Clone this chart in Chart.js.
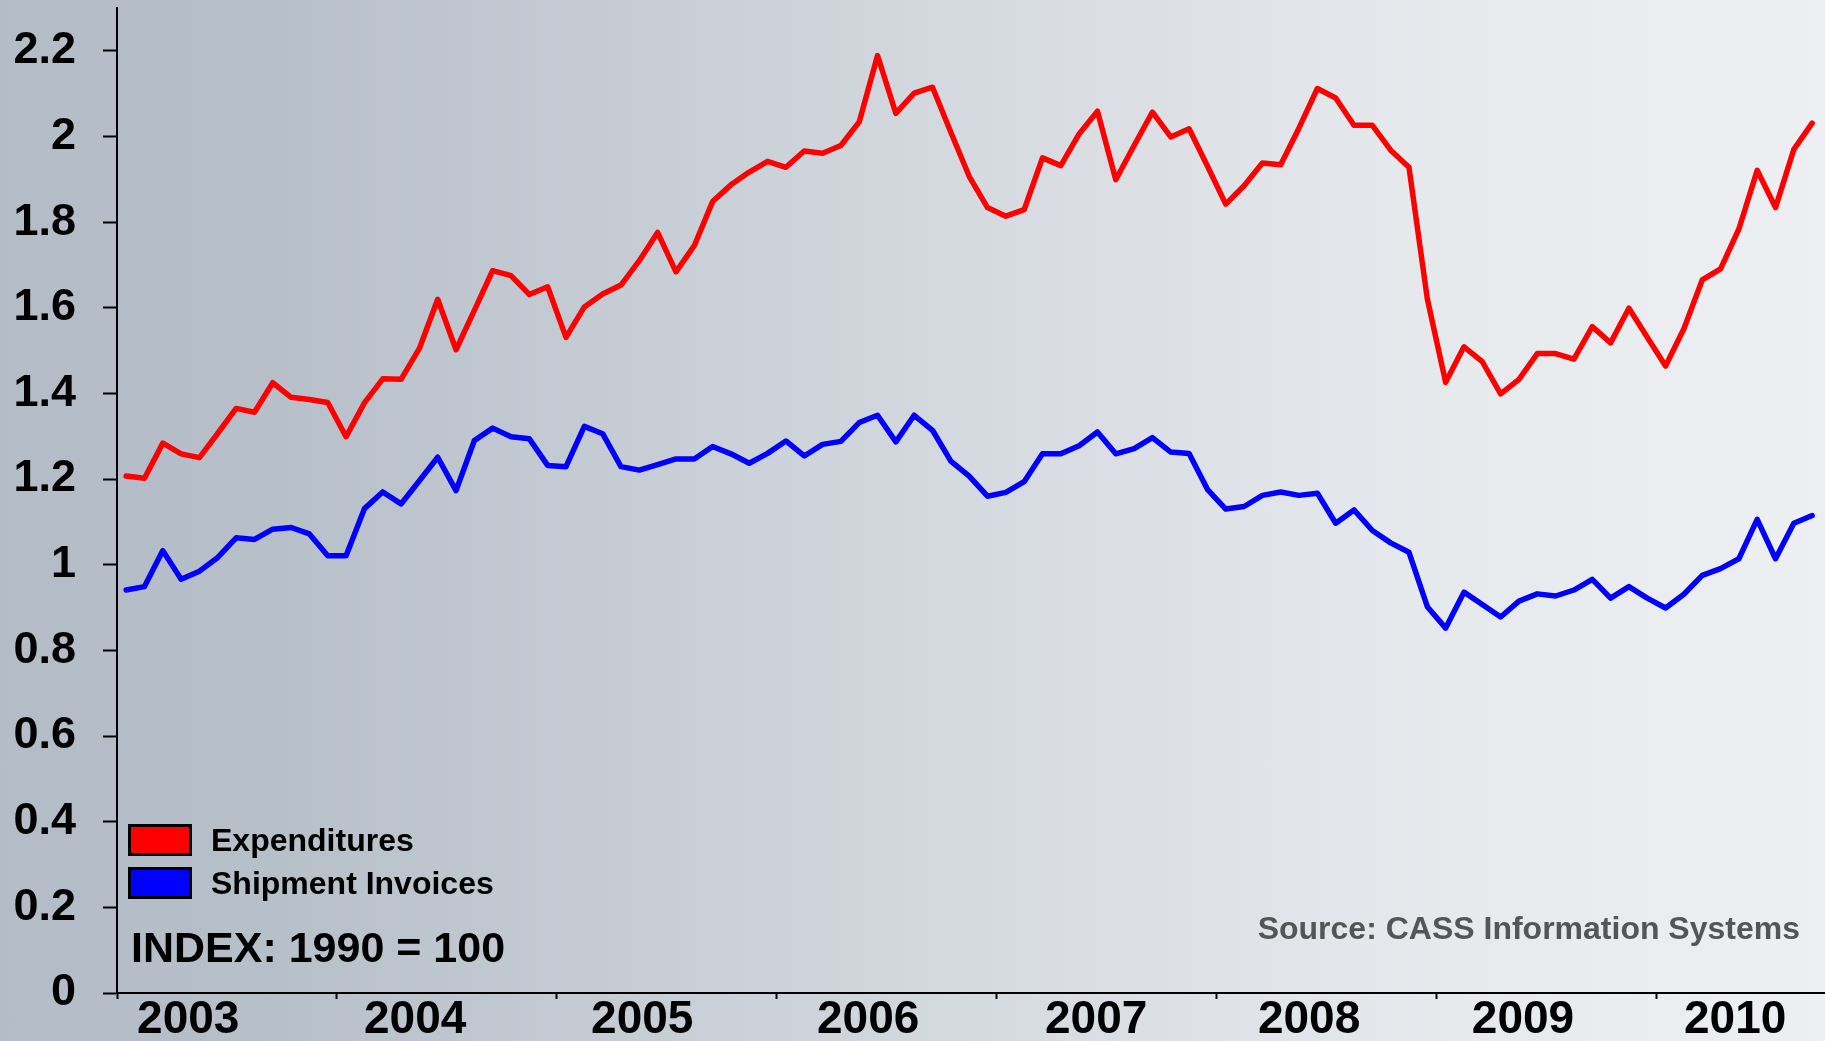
<!DOCTYPE html>
<html>
<head>
<meta charset="utf-8">
<script src="https://cdn.jsdelivr.net/npm/chart.js@4.4.1/dist/chart.umd.min.js"></script>
<style>
  html, body { margin: 0; padding: 0; }
  body { width: 1825px; height: 1041px; overflow: hidden; font-family: "Liberation Sans", Arial, Helvetica, sans-serif; }
  #wrap { position: relative; width: 1825px; height: 1041px;
    background: linear-gradient(to right, #b3bcc7 0%, #b7bfc9 15%, #c6cdd5 35%, #d9dde3 58%, #e7eaed 80%, #edeff2 100%); }
  #c { position: absolute; left: 0; top: 0; }
  .note { position: absolute; font-weight: bold; white-space: nowrap; line-height: 1; }
  #legend { position: absolute; left: 128px; top: 824px; }
  .row { display: flex; align-items: center; height: 32px; margin-bottom: 11px; }
  .box { width: 64px; height: 32px; box-sizing: border-box; border: 3px solid #000; }
  .lbl { margin-left: 19px; font-size: 32px; font-weight: bold; color: #000; line-height: 1; white-space: nowrap; }
  #index { left: 131px; top: 926px; font-size: 43px; color: #000; }
  #source { right: 25px; top: 912px; font-size: 32px; color: #555; }
</style>
</head>
<body>
<div id="wrap">
  <canvas id="c" width="1825" height="1041"></canvas>
  <div id="legend"></div>
  <div class="note" id="index">INDEX: 1990 = 100</div>
  <div class="note" id="source">Source: CASS Information Systems</div>
</div>
<script>
// Monthly series, Jan 2003 .. Sep 2010 (index, 1990 = 100, shown as ratio)
const expenditures = [
  1.207, 1.202, 1.284, 1.259, 1.250, 1.307, 1.365, 1.356, 1.425, 1.391, 1.386, 1.379,
  1.299, 1.378, 1.434, 1.433, 1.505, 1.620, 1.502, 1.594, 1.687, 1.675, 1.631, 1.649,
  1.531, 1.602, 1.632, 1.653, 1.710, 1.776, 1.684, 1.745, 1.848, 1.887, 1.917, 1.942,
  1.928, 1.966, 1.961, 1.979, 2.034, 2.189, 2.054, 2.101, 2.115, 2.010, 1.907, 1.834,
  1.814, 1.829, 1.950, 1.932, 2.006, 2.059, 1.899, 1.979, 2.057, 1.999, 2.018, 1.931,
  1.842, 1.885, 1.938, 1.934, 2.020, 2.112, 2.090, 2.026, 2.026, 1.968, 1.928, 1.621,
  1.426, 1.509, 1.474, 1.399, 1.433, 1.493, 1.493, 1.480, 1.556, 1.518, 1.599, 1.531,
  1.464, 1.551, 1.665, 1.691, 1.784, 1.921, 1.834, 1.970, 2.031
];
const shipments = [
  0.941, 0.949, 1.033, 0.966, 0.985, 1.017, 1.063, 1.059, 1.083, 1.087, 1.072, 1.021,
  1.021, 1.131, 1.170, 1.142, 1.196, 1.251, 1.173, 1.290, 1.319, 1.299, 1.294, 1.232,
  1.229, 1.323, 1.306, 1.229, 1.221, 1.234, 1.247, 1.247, 1.276, 1.259, 1.237, 1.260,
  1.289, 1.254, 1.281, 1.288, 1.332, 1.349, 1.287, 1.349, 1.314, 1.242, 1.207, 1.160,
  1.169, 1.194, 1.259, 1.259, 1.278, 1.310, 1.259, 1.271, 1.297, 1.263, 1.260, 1.176,
  1.130, 1.136, 1.162, 1.170, 1.162, 1.167, 1.097, 1.128, 1.080, 1.051, 1.029, 0.902,
  0.852, 0.936, 0.907, 0.878, 0.915, 0.932, 0.927, 0.941, 0.966, 0.922, 0.949, 0.922,
  0.899, 0.931, 0.975, 0.991, 1.014, 1.106, 1.014, 1.097, 1.115
];
const seriesNames = ['Expenditures', 'Shipment Invoices'];
const yearLabels = ['2003', '2004', '2005', '2006', '2007', '2008', '2009', '2010'];
// where each year label sits, in month-index units
const yearLabelAt = [3.39, 15.77, 28.16, 40.49, 52.93, 64.55, 76.22, 87.8];
// year boundary tick marks, in month-index units
const yearBoundaries = [-0.5, 11.5, 23.5, 35.5, 47.5, 59.5, 71.5, 83.5];
const yTickStep = 0.2;

const FONT = '"Liberation Sans", Arial, Helvetica, sans-serif';
const toPoints = arr => arr.map((v, i) => ({ x: i, y: v }));

const chart = new Chart(document.getElementById('c').getContext('2d'), {
  type: 'line',
  data: {
    datasets: [
      { label: seriesNames[0], data: toPoints(expenditures), borderColor: '#ff0000', backgroundColor: '#ff0000',
        borderWidth: 5.5, pointRadius: 0, tension: 0, borderJoinStyle: 'round', borderCapStyle: 'round' },
      { label: seriesNames[1], data: toPoints(shipments), borderColor: '#0000ff', backgroundColor: '#0000ff',
        borderWidth: 5.5, pointRadius: 0, tension: 0, borderJoinStyle: 'round', borderCapStyle: 'round' }
    ]
  },
  options: {
    responsive: false,
    animation: false,
    devicePixelRatio: 1,
    layout: { padding: { top: 8, right: 0, left: 0, bottom: 0 }, autoPadding: false },
    plugins: { legend: { display: false }, tooltip: { enabled: false } },
    scales: {
      x: {
        type: 'linear', min: -0.5, max: 92.7,
        afterBuildTicks: s => {
          s.ticks = yearBoundaries.map(v => ({ value: v })).concat(yearLabelAt.map(v => ({ value: v })));
        },
        afterFit: s => { s.height = 48; s.paddingLeft = 0; s.paddingRight = 0; },
        border: { display: true, color: '#000', width: 2 },
        grid: {
          display: true, drawOnChartArea: false, drawTicks: true, tickLength: 6, tickWidth: 2,
          color: 'rgba(0,0,0,0)',
          tickColor: c => (c.tick && yearLabelAt.includes(c.tick.value)) ? 'rgba(0,0,0,0)' : '#000'
        },
        ticks: {
          autoSkip: false, maxRotation: 0, minRotation: 0, padding: 3, color: '#000',
          font: { family: FONT, size: 46, weight: 'bold', lineHeight: 0.8 },
          callback: v => { const k = yearLabelAt.indexOf(v); return k >= 0 ? yearLabels[k] : ''; }
        }
      },
      y: {
        min: 0, max: 2.3,
        afterFit: s => { s.width = 117; s.paddingTop = 0; s.paddingBottom = 0; },
        border: { display: true, color: '#000', width: 2 },
        grid: { display: true, drawOnChartArea: false, drawTicks: true, tickLength: 14, tickWidth: 2,
          color: 'rgba(0,0,0,0)', tickColor: '#000' },
        ticks: {
          stepSize: yTickStep, includeBounds: false, padding: 27, color: '#000',
          font: { family: FONT, size: 45, weight: 'bold', lineHeight: 0.3 },
          callback: v => String(Math.round(v * 10) / 10)
        }
      }
    }
  }
});

// HTML legend built from the chart's datasets
const legendEl = document.getElementById('legend');
chart.data.datasets.forEach(ds => {
  const row = document.createElement('div');
  row.className = 'row';
  const box = document.createElement('div');
  box.className = 'box';
  box.style.background = ds.borderColor;
  const lbl = document.createElement('div');
  lbl.className = 'lbl';
  lbl.textContent = ds.label;
  row.appendChild(box);
  row.appendChild(lbl);
  legendEl.appendChild(row);
});
</script>
</body>
</html>
